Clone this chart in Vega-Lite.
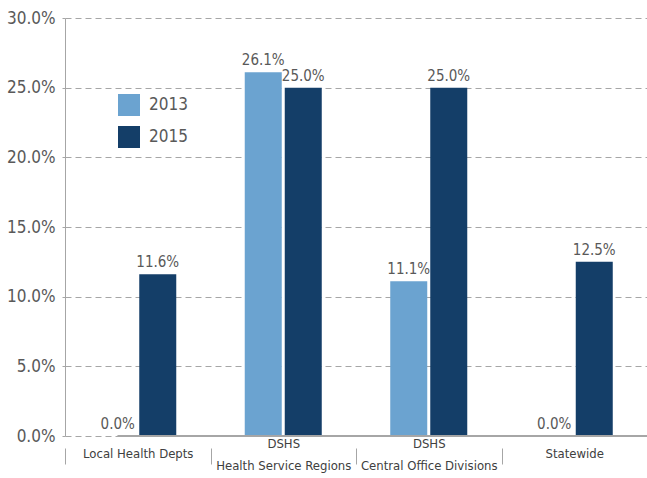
{
  "$schema": "https://vega.github.io/schema/vega-lite/v6.json",
  "width": 582,
  "height": 418,
  "autosize": "none",
  "padding": {"left": 65, "top": 18, "right": 0, "bottom": 42},
  "background": "white",
  "config": {
    "font": "DejaVu Sans Condensed",
    "view": {"stroke": null}
  },
  "data": {
    "values": [
      {"cat": "Local Health Depts", "year": "2013", "value": 0.0},
      {"cat": "Local Health Depts", "year": "2015", "value": 0.116},
      {"cat": "DSHS|Health Service Regions", "year": "2013", "value": 0.261},
      {"cat": "DSHS|Health Service Regions", "year": "2015", "value": 0.25},
      {"cat": "DSHS|Central Office Divisions", "year": "2013", "value": 0.111},
      {"cat": "DSHS|Central Office Divisions", "year": "2015", "value": 0.25},
      {"cat": "Statewide", "year": "2013", "value": 0.0},
      {"cat": "Statewide", "year": "2015", "value": 0.125}
    ]
  },
  "encoding": {
    "xOffset": {
      "field": "year",
      "type": "nominal",
      "scale": {"paddingInner": 0.075, "paddingOuter": 0.856}
    },
    "y": {
      "field": "value",
      "type": "quantitative",
      "scale": {"domain": [0, 0.3]},
      "axis": {
        "title": null,
        "values": [0, 0.05, 0.1, 0.15, 0.2, 0.25, 0.3],
        "format": ".1%",
        "domainColor": "#A6A6A6",
        "gridColor": "#A6A6A6",
        "gridDash": [6, 4],
        "tickColor": "#A6A6A6",
        "tickSize": 3,
        "labelPadding": 7,
        "labelFontSize": 17,
        "labelColor": "#595959"
      }
    }
  },
  "layer": [
    {
      "mark": {"type": "bar"},
      "encoding": {
        "x": {
          "field": "cat",
          "type": "nominal",
          "sort": ["Local Health Depts", "DSHS|Health Service Regions", "DSHS|Central Office Divisions", "Statewide"],
          "scale": {"paddingInner": 0, "paddingOuter": 0},
          "axis": {
            "title": null,
            "orient": "bottom",
            "domain": false,
            "offset": 12,
            "tickBand": "extent",
            "tickSize": 16,
            "tickColor": "#A6A6A6",
            "tickWidth": 1,
            "labelPadding": -11,
            "labelBaseline": "middle",
            "labelAngle": 0,
            "labelExpr": "indexof(datum.label, '|') >= 0 ? '' : datum.label",
            "labelFontSize": 13,
            "labelColor": "#404040"
          }
        },
        "color": {
          "field": "year",
          "type": "nominal",
          "scale": {"domain": ["2013", "2015"], "range": ["#6BA3D0", "#143E68"]},
          "legend": {
            "title": null,
            "orient": "none",
            "legendX": 53,
            "legendY": 76,
            "symbolType": "square",
            "symbolSize": 484,
            "symbolStrokeWidth": 0,
            "labelFontSize": 17,
            "labelColor": "#595959",
            "labelOffset": 9,
            "rowPadding": 10
          }
        }
      }
    },
    {
      "mark": {"type": "text", "baseline": "bottom", "dy": -4, "fontSize": 15, "color": "#595959"},
      "encoding": {
        "x": {
          "field": "cat",
          "type": "nominal",
          "sort": ["Local Health Depts", "DSHS|Health Service Regions", "DSHS|Central Office Divisions", "Statewide"],
          "axis": {
            "title": null,
            "orient": "bottom",
            "domain": false,
            "offset": 12,
            "tickBand": "extent",
            "tickSize": 16,
            "tickOpacity": 0,
            "labelPadding": -21,
            "labelBaseline": "middle",
            "labelAngle": 0,
            "labelExpr": "indexof(datum.label, '|') >= 0 ? split(datum.label, '|') : ''",
            "labelFontSize": 13,
            "labelLineHeight": 22,
            "labelColor": "#404040"
          }
        },
        "text": {"field": "value", "type": "quantitative", "format": ".1%"}
      }
    },
    {
      "mark": {"type": "rule", "color": "#A6A6A6", "strokeWidth": 1.5},
      "encoding": {"y": {"datum": 0}, "x": {"value": 0}, "x2": {"value": 582}}
    }
  ],
  "resolve": {"axis": {"x": "independent"}}
}
